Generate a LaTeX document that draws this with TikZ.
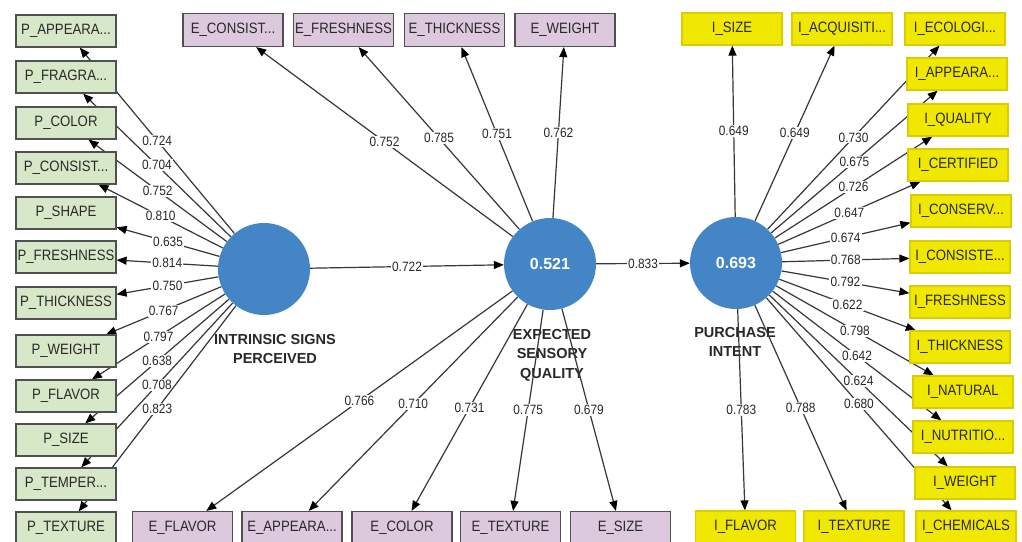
\documentclass[tikz,border=0pt]{standalone}
\usepackage{fontspec}
\setmainfont{Liberation Sans}
\newfontfamily\narrowfont[FakeStretch=0.88]{Liberation Sans}
\usetikzlibrary{arrows.meta,backgrounds}
\definecolor{gfill}{RGB}{214,232,200}
\definecolor{pfill}{RGB}{221,201,222}
\definecolor{yfill}{RGB}{240,232,0}
\definecolor{yline}{RGB}{215,205,0}
\definecolor{bline}{RGB}{80,80,80}
\definecolor{cfill}{RGB}{68,133,198}
\definecolor{ink}{RGB}{40,40,40}
\definecolor{arr}{RGB}{55,55,55}
\newcommand{\tdots}{.{}.{}.}
\begin{document}
\begin{tikzpicture}[x=1pt,y=-1pt,
 box/.style={rectangle, minimum width=100pt, minimum height=32pt, inner sep=0pt, font=\narrowfont\fontsize{15}{17}\selectfont, text=ink, line width=1.2pt},
 gbox/.style={box, fill=gfill, draw=bline},
 pbox/.style={box, fill=pfill, draw=bline, minimum height=33pt},
 ybox/.style={box, fill=yfill, draw=yline},
 lv/.style={circle, fill=cfill, minimum size=92pt, inner sep=0pt, text=white, font=\bfseries\fontsize{16}{18}\selectfont},
 lvcap/.style={align=center, font=\bfseries\fontsize{14.5}{19.5}\selectfont, text=ink},
 ld/.style={draw=arr, line width=1.2pt, -{Triangle[length=10pt,width=8pt,color=black]}},
 lbl/.style={midway, fill=white, inner sep=1.2pt, font=\narrowfont\fontsize{13.5}{15}\selectfont, text=ink}
]
\useasboundingbox (0,0) rectangle (1022,541);

% latent variables
\node[lv] (isp) at (264,269) {};
\node[lv] (esq) at (550,264) {0.521};
\node[lv] (pin) at (736,263) {0.693};

% left indicators
\foreach \n/\t/\y in {pa/P\_APPEARA\tdots/31, pfr/P\_FRAGRA\tdots/77, pco/P\_COLOR/123,
  pcs/P\_CONSIST\tdots/168, psh/P\_SHAPE/213, pfs/P\_FRESHNESS/257, pth/P\_THICKNESS/303,
  pwe/P\_WEIGHT/351, pfl/P\_FLAVOR/396, psi/P\_SIZE/440, pte/P\_TEMPER\tdots/484, ptx/P\_TEXTURE/528}
  \node[gbox] (\n) at (66,\y) {\t};

% top E indicators
\foreach \n/\t/\x in {ecs/E\_CONSIST\tdots/233, efs/E\_FRESHNESS/343.5, eth/E\_THICKNESS/454.5, ewe/E\_WEIGHT/565}
  \node[pbox] (\n) at (\x,30) {\t};

% bottom E indicators
\foreach \n/\t/\x in {efl/E\_FLAVOR/182.5, eap/E\_APPEARA\tdots/292, eco/E\_COLOR/402, etx/E\_TEXTURE/510.5, esi/E\_SIZE/620.5}
  \node[pbox] (\n) at (\x,528) {\t};

% top I indicators
\node[ybox] (isi) at (732,29) {I\_SIZE};
\node[ybox] (iac) at (842,29) {I\_ACQUISITI\tdots};

% right I indicators
\foreach \n/\t/\x/\y in {iec/I\_ECOLOGI\tdots/955/29, iap/I\_APPEARA\tdots/957/74, iqu/I\_QUALITY/958/120,
  ice/I\_CERTIFIED/958/165, icv/I\_CONSERV\tdots/961/211, ics/I\_CONSISTE\tdots/960/257,
  ifs/I\_FRESHNESS/960/302, ith/I\_THICKNESS/960/347, ina/I\_NATURAL/963/392,
  inu/I\_NUTRITIO\tdots/963/437, iwe/I\_WEIGHT/965/483, ich/I\_CHEMICALS/966/527}
  \node[ybox] (\n) at (\x,\y) {\t};

% bottom I indicators
\node[ybox] (ifl) at (745.5,527) {I\_FLAVOR};
\node[ybox] (itx) at (854,527) {I\_TEXTURE};

\begin{pgfonlayer}{background}
\fill[white] (0,0) rectangle (1022,541);
\node[lvcap] (capisp) at (275,349) {INTRINSIC SIGNS\\PERCEIVED};
\node[lvcap] (capesq) at (552,355) {EXPECTED\\SENSORY\\QUALITY};
\node[lvcap] (cappin) at (735,342) {PURCHASE\\INTENT};

\foreach \n/\v in {pa/0.724, pfr/0.704, pco/0.752, pcs/0.810, psh/0.635, pfs/0.814,
  pth/0.750, pwe/0.767, pfl/0.797, psi/0.638, pte/0.708, ptx/0.823}
  \draw[ld] (isp) -- node[lbl] {\v} (\n);

\foreach \n/\v in {ecs/0.752, efs/0.785, eth/0.751, ewe/0.762,
  efl/0.766, eap/0.710, eco/0.731, etx/0.775, esi/0.679}
  \draw[ld] (esq) -- node[lbl] {\v} (\n);

\foreach \n/\v in {isi/0.649, iac/0.649, iec/0.730, iap/0.675, iqu/0.726, ice/0.647,
  icv/0.674, ics/0.768, ifs/0.792, ith/0.622, ina/0.798, inu/0.642, iwe/0.624,
  ich/0.680, ifl/0.783, itx/0.788}
  \draw[ld] (pin) -- node[lbl] {\v} (\n);

\draw[ld] (isp) -- node[lbl] {0.722} (esq);
\draw[ld] (esq) -- node[lbl] {0.833} (pin);
\end{pgfonlayer}
\end{tikzpicture}
\end{document}
